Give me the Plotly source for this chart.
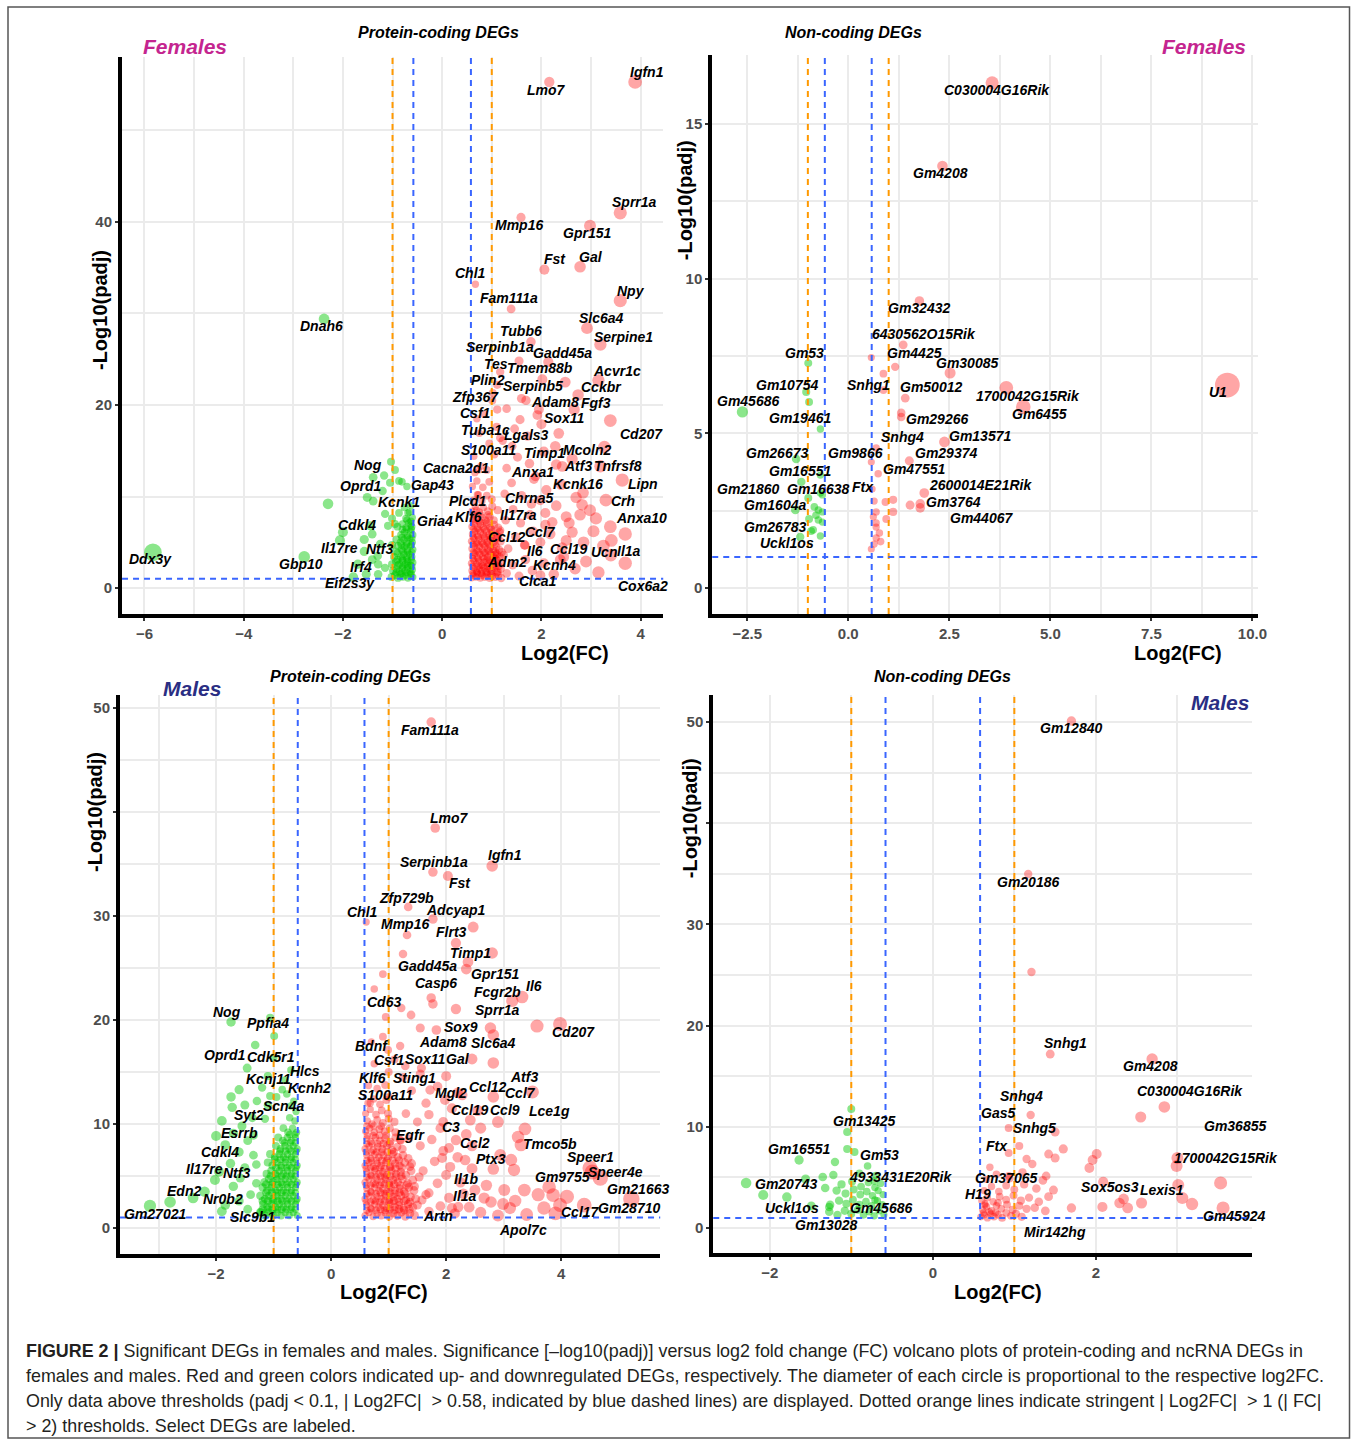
import plotly.graph_objects as go

W, H = 1360, 1444
KX = 1.007  # horizontal calibration of pixel positions (screenshot compresses x by ~0.7%)
FONT = "Liberation Sans, Arial, sans-serif"
RED = "rgba(255,0,0,0.5)"
GREEN = "rgba(0,200,0,0.65)"
BLUE = "#3a66ff"
ORANGE = "#ff9900"

# ======================= DATA =======================
# ---- Females, protein-coding DEGs: labelled genes (gene, log2FC, -log10 padj)
f_pc_labelled = [
    ("Igfn1", 3.89, 55.3), ("Lmo7", 2.16, 55.3), ("Sprr1a", 3.59, 41.0), ("Mmp16", 1.59, 40.5),
    ("Gpr151", 2.98, 39.6), ("Fst", 2.06, 34.8), ("Gal", 2.78, 35.1), ("Chl1", 0.67, 33.2),
    ("Fam111a", 1.39, 30.5), ("Npy", 3.59, 31.4), ("Dnah6", -2.38, 29.4), ("Slc6a4", 2.92, 28.4),
    ("Tubb6", 1.79, 26.9), ("Serpine1", 3.19, 26.6), ("Serpinb1a", 1.55, 24.8), ("Gadd45a", 2.14, 24.7),
    ("Tes", 1.17, 23.6), ("Tmem88b", 2.02, 22.8), ("Acvr1c", 3.15, 22.7), ("Plin2", 1.11, 22.2),
    ("Serpinb5", 2.48, 22.5), ("Cckbr", 2.74, 21.1), ("Zfp367", 1.01, 20.5), ("Adam8", 1.69, 20.5),
    ("Fgf3", 2.66, 19.5), ("Csf1", 1.11, 19.5), ("Sox11", 1.92, 18.9), ("Cd207", 3.39, 18.3),
    ("Tuba1c", 1.17, 16.4), ("Lgals3", 1.57, 18.4), ("S100a11", 1.41, 15.5), ("Timp1", 2.28, 15.5),
    ("Mcoln2", 3.27, 15.4), ("Nog", -1.03, 13.8), ("Cacna2d1", 0.73, 12.9), ("Atf3", 2.42, 13.3),
    ("Tnfrsf8", 3.19, 13.3), ("Anxa1", 1.88, 12.2), ("Oprd1", -1.17, 12.3), ("Gap43", -0.71, 11.1),
    ("Kcnk16", 2.84, 10.4), ("Lipn", 3.63, 11.8), ("Kcnk1", -0.87, 8.2), ("Plcd1", 0.73, 10.2),
    ("Chrna5", 1.98, 9.6), ("Crh", 2.82, 9.1), ("Gria4", -0.63, 6.9), ("Klf6", 0.69, 8.5),
    ("Il17ra", 1.77, 8.0), ("Anxa10", 3.39, 6.7), ("Cdkl4", -2.0, 6.1), ("Ccl12", 1.17, 6.3),
    ("Ccl7", 2.08, 6.9), ("Il17re", -2.06, 5.2), ("Ntf3", -1.01, 4.7), ("Il6", 1.67, 4.7),
    ("Ccl19", 2.50, 5.2), ("Ucn", 3.41, 5.2), ("Il1a", 3.69, 5.9), ("Ddx3y", -5.83, 3.9),
    ("Gbp10", -2.78, 3.4), ("Irf4", -1.41, 3.1), ("Adm2", 1.07, 3.6), ("Kcnh4", 2.38, 3.1),
    ("Eif2s3y", -1.79, 1.2), ("Clca1", 1.98, 1.4), ("Cox6a2", 3.69, 2.7),
]
# unlabelled up-regulated (log2FC, -log10 padj)
f_pc_up = [
    (0.59, 1.1), (0.63, 1.4), (0.68, 1.2), (0.72, 1.5), (0.77, 1.1), (0.81, 1.4), (0.86, 1.2), (0.91, 1.5),
    (0.96, 1.1), (1.01, 1.3), (1.07, 1.2), (1.13, 1.4), (1.19, 1.1),
    (0.60, 1.9), (0.65, 2.2), (0.70, 1.8), (0.75, 2.1), (0.80, 1.9), (0.85, 2.2), (0.90, 1.8), (0.95, 2.1),
    (1.00, 1.9), (1.06, 2.2), (1.12, 1.8), (1.18, 2.1),
    (0.59, 2.7), (0.64, 3.0), (0.69, 2.6), (0.74, 2.9), (0.79, 2.5), (0.84, 2.8), (0.89, 3.0), (0.94, 2.6),
    (0.99, 2.9), (1.05, 2.6), (1.11, 3.0), (1.17, 2.7),
    (0.61, 3.5), (0.66, 3.8), (0.71, 3.3), (0.76, 3.7), (0.82, 3.4), (0.87, 3.8), (0.92, 3.4), (0.98, 3.7),
    (1.04, 3.3), (1.10, 3.7), (1.16, 3.4), (1.24, 3.6),
    (0.60, 4.3), (0.65, 4.6), (0.70, 4.1), (0.75, 4.5), (0.81, 4.2), (0.86, 4.6), (0.92, 4.2), (0.97, 4.5),
    (1.03, 4.1), (1.09, 4.5), (1.15, 4.2),
    (0.59, 5.1), (0.64, 5.4), (0.69, 4.9), (0.74, 5.3), (0.80, 5.0), (0.85, 5.4), (0.91, 5.0), (0.97, 5.3),
    (1.03, 5.0), (1.10, 5.4), (1.18, 5.1),
    (0.61, 5.9), (0.66, 6.2), (0.71, 5.7), (0.77, 6.1), (0.83, 5.8), (0.89, 6.2), (0.95, 5.8), (1.01, 6.1),
    (1.08, 5.8), (1.16, 6.1),
    (0.60, 6.7), (0.65, 7.0), (0.71, 6.5), (0.77, 6.9), (0.83, 6.6), (0.90, 7.0), (0.97, 6.6), (1.05, 6.9),
    (1.13, 6.6),
    (0.62, 7.5), (0.68, 7.8), (0.74, 7.3), (0.81, 7.7), (0.88, 7.4), (0.96, 7.8), (1.04, 7.4),
    (0.60, 8.4), (0.67, 8.9), (0.75, 8.3), (0.83, 8.8), (0.92, 8.4), (1.01, 8.9), (1.12, 8.5),
    (0.63, 9.6), (0.71, 10.2), (0.80, 9.5), (0.90, 10.1), (1.00, 9.7),
    (0.61, 11.1), (0.70, 11.7), (0.82, 11.0), (0.95, 11.6),
    (0.66, 12.6), (0.78, 13.3), (0.64, 14.4), (0.90, 12.9),
    # dense core
    (0.62, 1.6), (0.70, 1.7), (0.78, 1.6), (0.88, 1.7), (0.98, 1.6), (1.10, 1.7),
    (0.61, 2.4), (0.72, 2.4), (0.82, 2.4), (0.92, 2.4), (1.02, 2.4), (1.14, 2.4),
    (0.62, 3.2), (0.73, 3.2), (0.85, 3.2), (0.96, 3.1), (1.08, 3.2),
    (0.63, 3.9), (0.73, 4.0), (0.84, 3.9), (0.95, 4.0), (1.07, 3.9), (1.20, 3.9),
    (0.62, 4.8), (0.72, 4.8), (0.83, 4.8), (0.94, 4.8), (1.06, 4.8),
    (0.62, 5.6), (0.73, 5.6), (0.86, 5.6), (0.99, 5.6), (1.13, 5.6),
    (0.63, 6.4), (0.74, 6.4), (0.86, 6.4), (0.99, 6.4),
    (0.63, 7.2), (0.76, 7.2), (0.90, 7.2),
    (0.64, 8.0), (0.78, 8.0), (0.93, 8.0),
    # scattered
    (2.98, 8.5), (2.50, 7.8), (2.78, 8.0), (2.08, 8.2), (2.56, 7.1), (2.22, 7.2),
    (1.30, 1.6), (1.42, 2.5), (1.55, 1.3), (1.68, 3.1), (1.82, 1.9), (2.05, 2.7), (2.25, 1.5), (2.45, 3.4),
    (2.68, 2.1), (2.90, 2.9), (3.15, 1.7), (3.40, 3.6),
    (1.33, 4.3), (1.48, 5.6), (1.66, 4.7), (1.83, 6.2), (1.98, 5.0), (2.18, 5.9), (2.42, 4.4), (2.62, 6.1),
    (2.85, 5.0), (3.05, 6.2), (3.25, 4.6),
    (1.28, 7.4), (1.43, 8.6), (1.58, 7.1), (1.80, 9.2), (2.30, 9.0), (2.70, 9.9), (3.10, 7.6), (3.30, 9.6),
    (1.26, 10.3), (1.40, 11.5), (1.60, 10.1), (1.85, 11.9), (2.10, 10.7), (2.40, 11.3),
    (1.30, 13.1), (1.52, 14.3), (1.76, 13.6), (2.05, 14.9), (2.30, 13.5), (2.62, 14.1), (1.22, 16.1),
    (1.46, 17.4), (1.72, 16.6), (2.00, 17.9), (2.35, 16.9), (1.30, 19.6), (1.60, 20.7), (1.95, 19.5),
    (1.05, 14.6), (1.10, 17.6), (0.95, 15.8), (0.75, 16.9), (0.85, 19.0), (1.02, 21.3), (0.70, 18.5),
]
# unlabelled down-regulated
f_pc_down = [
    (-0.59, 1.2), (-0.64, 1.5), (-0.69, 1.1), (-0.74, 1.4), (-0.79, 1.2), (-0.84, 1.5), (-0.89, 1.1),
    (-0.95, 1.4), (-1.02, 1.2),
    (-0.60, 2.0), (-0.65, 1.8), (-0.70, 2.2), (-0.75, 1.9), (-0.80, 2.2), (-0.86, 1.8), (-0.92, 2.1), (-0.99, 1.9),
    (-0.59, 2.8), (-0.64, 2.5), (-0.69, 2.9), (-0.74, 2.6), (-0.80, 3.0), (-0.86, 2.6), (-0.93, 2.9), (-1.01, 2.6),
    (-0.61, 3.4), (-0.66, 3.7), (-0.71, 3.3), (-0.77, 3.7), (-0.83, 3.4), (-0.90, 3.8), (-0.97, 3.4),
    (-0.59, 4.2), (-0.64, 4.6), (-0.70, 4.1), (-0.76, 4.5), (-0.82, 4.2), (-0.89, 4.6),
    (-0.60, 5.0), (-0.65, 5.4), (-0.71, 4.9), (-0.77, 5.3), (-0.84, 5.0), (-0.92, 5.3),
    (-0.59, 5.8), (-0.64, 6.2), (-0.70, 5.7), (-0.76, 6.1), (-0.83, 5.8),
    (-0.61, 6.7), (-0.67, 7.1), (-0.73, 6.6), (-0.80, 7.0), (-0.90, 6.7),
    (-0.60, 7.7), (-0.66, 8.3), (-0.73, 7.6), (-0.63, 9.0), (-0.76, 8.8),
    # dense core
    (-0.62, 1.6), (-0.71, 1.7), (-0.81, 1.6), (-0.92, 1.7),
    (-0.61, 2.4), (-0.70, 2.5), (-0.79, 2.4), (-0.89, 2.5),
    (-0.62, 3.1), (-0.71, 3.1), (-0.80, 3.2), (-0.90, 3.1),
    (-0.61, 3.9), (-0.70, 3.9), (-0.79, 4.0), (-0.93, 4.0),
    (-0.62, 4.7), (-0.72, 4.7), (-0.82, 4.7),
    (-0.61, 5.4), (-0.70, 5.5), (-0.81, 5.5),
    (-0.62, 6.4), (-0.72, 6.4), (-0.80, 6.4),
    (-0.63, 7.3), (-0.71, 7.4),
    # scattered
    (-1.39, 12.1), (-0.87, 11.7), (-0.81, 11.6), (-1.51, 9.9), (-1.39, 9.5), (-1.15, 8.1), (-1.01, 7.6),
    (-0.69, 8.2), (-1.09, 6.8), (-0.95, 7.0), (-1.57, 5.3), (-1.41, 5.9), (-1.25, 4.8), (-1.57, 4.0),
    (-1.29, 2.6), (-1.53, 1.5), (-1.29, 1.5), (-2.30, 9.2), (-1.20, 10.6), (-1.05, 11.5), (-0.95, 12.9),
    (-1.30, 3.5), (-1.15, 2.2), (-1.45, 6.8), (-1.70, 2.6),
]

# ---- Females, non-coding DEGs
f_nc_labelled = [
    ("C030004G16Rik", 3.56, 16.33), ("Gm4208", 2.33, 13.64), ("Gm32432", 1.76, 9.28),
    ("6430562O15Rik", 1.36, 7.86), ("Gm53", -0.99, 7.27), ("Gm4425", 1.16, 7.15), ("Gm30085", 2.52, 6.95),
    ("Gm10754", -1.04, 6.34), ("Snhg1", 0.87, 6.40), ("Gm50012", 1.41, 6.14), ("1700042G15Rik", 3.91, 6.47),
    ("U1", 9.38, 6.56), ("Gm45686", -2.62, 5.69), ("Gm6455", 4.33, 5.85), ("Gm19461", -0.69, 5.14),
    ("Gm29266", 1.31, 5.66), ("Snhg4", 0.69, 4.53), ("Gm9866", 0.57, 4.07), ("Gm13571", 2.38, 4.72),
    ("Gm26673", -1.29, 4.17), ("Gm29374", 1.51, 4.11), ("Gm16551", -0.69, 3.65), ("Gm47551", 0.74, 3.69),
    ("Gm21860", -1.16, 3.43), ("Gm16638", -0.69, 3.07), ("Ftx", 0.59, 3.20), ("2600014E21Rik", 1.88, 3.07),
    ("Gm3764", 1.78, 2.72), ("Gm1604a", -1.31, 2.52), ("Gm44067", 1.53, 2.68), ("Gm26783", -0.92, 1.84),
    ("Uckl1os", -1.19, 1.65),
]
f_nc_up = [
    (0.57, 7.45), (0.87, 6.93), (0.64, 2.81), (0.92, 2.78), (1.11, 2.85), (0.69, 2.46), (1.11, 2.46),
    (0.94, 2.23), (0.69, 1.97), (0.77, 1.78), (0.69, 1.62), (0.64, 1.42), (0.57, 1.26), (1.78, 2.59),
    (0.69, 2.10), (1.31, 5.53), (0.62, 2.30), (0.80, 1.50),
]
f_nc_down = [
    (-0.84, 2.62), (-0.74, 2.52), (-0.64, 2.46), (-0.74, 2.20), (-0.97, 2.23), (-0.64, 2.13), (-0.87, 1.88),
    (-0.69, 1.68), (-0.99, 2.91), (-0.97, 6.01), (-0.64, 3.01), (-0.80, 2.35),
]

# ---- Males, protein-coding DEGs
m_pc_labelled = [
    ("Fam111a", 1.74, 48.65), ("Lmo7", 1.81, 38.46), ("Igfn1", 2.80, 34.81), ("Serpinb1a", 1.77, 34.23),
    ("Fst", 2.03, 33.85), ("Zfp729b", 1.34, 30.87), ("Chl1", 0.61, 29.42), ("Adcyap1", 1.77, 29.71),
    ("Mmp16", 1.32, 28.17), ("Flrt3", 2.17, 27.40), ("Timp1", 2.80, 26.44), ("Gpr151", 2.38, 25.58),
    ("Gadd45a", 2.35, 24.90), ("Casp6", 1.74, 22.12), ("Fcgr2b", 3.15, 21.83), ("Il6", 3.32, 22.21),
    ("Cd63", 1.22, 21.15), ("Sprr1a", 2.17, 21.06), ("Nog", -1.74, 19.81), ("Ppfia4", -0.99, 18.46),
    ("Sox9", 2.77, 19.23), ("Cd207", 3.98, 19.62), ("Adam8", 1.83, 19.04), ("Slc6a4", 2.82, 18.56),
    ("Oprd1", -1.32, 17.60), ("Cdk5r1", -1.46, 15.38), ("Bdnf", 0.99, 17.12), ("Csf1", 1.29, 15.58),
    ("Sox11", 1.57, 15.38), ("Gal", 2.45, 16.25), ("Hlcs", -0.80, 14.23), ("Kcnj11", -1.29, 12.21),
    ("Kcnh2", -0.70, 11.73), ("Klf6", 0.94, 13.75), ("Sting1", 1.72, 13.27), ("Atf3", 3.50, 13.08),
    ("Ccl12", 2.28, 12.79), ("Ccl7", 2.82, 12.60), ("Mgl2", 1.98, 12.31), ("S100a11", 0.68, 12.02),
    ("Scn4a", -0.77, 12.88), ("Syt2", -1.50, 11.83), ("Ccl19", 2.42, 10.38), ("Ccl9", 2.90, 10.19),
    ("Lce1g", 3.37, 9.52), ("C3", 1.95, 10.19), ("Esrrb", -2.00, 8.85), ("Egfr", 1.20, 8.46),
    ("Tmco5b", 3.25, 8.75), ("Ccl2", 2.17, 8.46), ("Cdkl4", -1.84, 7.98), ("Speer1", 4.50, 5.77),
    ("Speer4e", 4.68, 4.81), ("Gm9755", 3.79, 3.94), ("Ptx3", 3.13, 6.54), ("Il17re", -2.02, 4.62),
    ("Ntf3", -1.58, 4.81), ("Il1b", 2.07, 5.87), ("Il1a", 2.66, 2.88), ("Gm21663", 5.22, 2.79),
    ("Edn2", -2.80, 2.50), ("Nr0b2", -1.84, 2.21), ("Gm27021", -3.15, 2.12), ("Slc9b1", -1.23, 1.54),
    ("Artn", 2.21, 2.02), ("Ccl17", 3.70, 1.92), ("Gm28710", 3.98, 2.21), ("Apol7c", 3.11, 1.92),
]
m_pc_up = [
    (0.59, 1.2), (0.66, 1.5), (0.73, 1.1), (0.80, 1.4), (0.87, 1.2), (0.94, 1.5), (1.01, 1.1), (1.08, 1.4),
    (1.15, 1.2), (1.22, 1.5), (1.29, 1.1), (1.37, 1.4), (1.45, 1.2),
    (0.62, 2.2), (0.69, 1.9), (0.76, 2.3), (0.83, 2.0), (0.90, 2.2), (0.97, 1.9), (1.04, 2.3), (1.11, 2.0),
    (1.18, 2.2), (1.26, 1.9), (1.34, 2.3), (1.42, 2.0),
    (0.59, 2.8), (0.66, 3.1), (0.73, 2.7), (0.80, 3.0), (0.87, 2.8), (0.94, 3.1), (1.01, 2.7), (1.08, 3.0),
    (1.15, 2.8), (1.22, 3.1), (1.30, 2.7), (1.38, 3.0), (1.47, 2.8),
    (0.62, 3.8), (0.69, 3.5), (0.76, 3.9), (0.83, 3.6), (0.90, 3.8), (0.97, 3.5), (1.04, 3.9), (1.11, 3.6),
    (1.19, 3.8), (1.27, 3.5), (1.35, 3.9), (1.44, 3.6),
    (0.59, 4.4), (0.66, 4.7), (0.73, 4.3), (0.80, 4.6), (0.87, 4.4), (0.94, 4.7), (1.01, 4.3), (1.08, 4.6),
    (1.16, 4.4), (1.24, 4.7), (1.33, 4.3), (1.42, 4.6),
    (0.62, 5.4), (0.69, 5.1), (0.76, 5.5), (0.83, 5.2), (0.90, 5.4), (0.97, 5.1), (1.05, 5.5), (1.13, 5.2),
    (1.21, 5.4), (1.30, 5.1), (1.39, 5.5),
    (0.59, 6.0), (0.66, 6.3), (0.73, 5.9), (0.80, 6.2), (0.87, 6.0), (0.95, 6.3), (1.03, 5.9), (1.11, 6.2),
    (1.19, 6.0), (1.28, 6.3), (1.37, 5.9),
    (0.62, 7.0), (0.69, 6.7), (0.76, 7.1), (0.83, 6.8), (0.91, 7.0), (0.99, 6.7), (1.07, 7.1), (1.16, 6.8),
    (1.25, 7.0), (1.34, 6.7),
    (0.59, 7.6), (0.66, 7.9), (0.73, 7.5), (0.81, 7.8), (0.89, 7.6), (0.97, 7.9), (1.06, 7.5), (1.15, 7.8),
    (1.24, 7.6),
    (0.62, 8.6), (0.69, 8.3), (0.77, 8.7), (0.85, 8.4), (0.94, 8.6), (1.03, 8.3), (1.12, 8.7), (1.21, 8.4),
    (0.60, 9.3), (0.67, 9.6), (0.75, 9.2), (0.84, 9.5), (0.93, 9.3), (1.02, 9.6), (1.12, 9.2),
    (0.63, 10.3), (0.71, 10.0), (0.80, 10.4), (0.90, 10.1), (1.00, 10.5), (1.10, 10.2),
    (0.60, 11.0), (0.68, 11.4), (0.78, 10.9), (0.88, 11.3), (0.99, 11.0),
    (0.64, 12.0), (0.74, 12.4), (0.85, 11.9), (0.96, 12.3),
    # dense core
    (0.62, 1.7), (0.70, 1.8), (0.78, 1.7), (0.86, 1.8), (0.94, 1.7), (1.02, 1.8), (1.10, 1.7), (1.18, 1.8),
    (1.27, 1.7), (1.36, 1.8),
    (0.61, 2.5), (0.69, 2.5), (0.77, 2.6), (0.85, 2.5), (0.93, 2.6), (1.01, 2.5), (1.09, 2.6), (1.18, 2.5),
    (1.27, 2.6), (1.37, 2.5),
    (0.62, 3.3), (0.70, 3.4), (0.78, 3.3), (0.86, 3.4), (0.94, 3.3), (1.02, 3.4), (1.10, 3.3), (1.19, 3.4),
    (1.29, 3.3),
    (0.61, 4.1), (0.69, 4.1), (0.77, 4.2), (0.85, 4.1), (0.93, 4.2), (1.01, 4.1), (1.10, 4.2), (1.20, 4.1),
    (1.31, 4.1),
    (0.62, 4.9), (0.70, 5.0), (0.78, 4.9), (0.86, 5.0), (0.94, 4.9), (1.03, 5.0), (1.12, 4.9), (1.22, 5.0),
    (0.61, 5.7), (0.69, 5.8), (0.77, 5.7), (0.85, 5.8), (0.93, 5.7), (1.02, 5.8), (1.12, 5.7), (1.23, 5.8),
    (0.62, 6.5), (0.70, 6.5), (0.79, 6.5), (0.88, 6.5), (0.97, 6.5), (1.07, 6.5), (1.18, 6.5),
    (0.61, 7.3), (0.70, 7.3), (0.79, 7.3), (0.88, 7.3), (0.98, 7.3), (1.09, 7.3),
    (0.62, 8.1), (0.71, 8.1), (0.81, 8.1), (0.91, 8.1), (1.02, 8.1),
    (0.63, 8.9), (0.73, 8.9), (0.84, 8.9), (0.96, 8.9),
    (0.62, 9.8), (0.74, 9.8), (0.87, 9.8),
    # scattered
    (0.90, 24.42), (0.75, 22.98), (1.39, 20.48), (1.55, 19.23), (3.58, 19.42), (1.77, 21.54), (2.47, 28.94),
    (1.25, 26.35), (2.82, 15.87), (3.30, 7.98), (2.82, 5.67), (3.36, 3.65), (3.01, 3.65), (2.78, 2.50),
    (2.50, 3.65), (3.18, 5.58), (2.94, 7.02), (2.33, 6.54), (2.05, 7.69), (1.93, 6.73), (2.10, 1.92),
    (1.70, 3.37), (1.53, 4.90), (1.58, 2.69), (3.86, 3.17), (2.99, 2.31), (4.54, 5.38),
    (1.25, 14.5), (1.40, 13.2), (1.55, 14.8), (1.65, 12.0), (1.85, 13.6), (2.00, 14.6), (2.20, 13.0),
    (1.30, 11.0), (1.50, 10.2), (1.70, 10.9), (1.90, 9.6), (2.10, 11.5), (2.35, 9.0), (2.55, 11.3),
    (1.35, 8.6), (1.55, 7.9), (1.75, 8.5), (1.95, 7.4), (2.20, 6.8), (2.45, 7.9), (2.60, 9.6),
    (1.40, 6.2), (1.60, 5.5), (1.80, 6.4), (2.00, 5.1), (2.25, 4.4), (2.45, 5.7), (2.70, 4.1),
    (1.45, 4.0), (1.65, 3.2), (1.85, 4.3), (2.05, 2.9), (2.30, 3.3), (1.50, 2.2), (1.70, 1.6),
    (1.90, 2.1), (2.15, 1.4), (2.40, 2.0), (2.60, 1.5), (2.90, 1.2), (3.20, 2.6), (3.40, 1.3),
    (3.60, 3.2), (3.90, 1.4), (4.10, 3.0), (4.40, 2.2), (1.20, 17.5), (1.10, 16.2), (0.90, 18.4),
    (0.75, 15.8), (0.65, 13.7), (1.00, 12.6), (0.80, 13.4), (0.70, 17.9), (0.95, 20.3), (1.00, 15.0),
]
m_pc_down = [
    (-0.59, 1.2), (-0.66, 1.5), (-0.73, 1.2), (-0.80, 1.5), (-0.87, 1.2), (-0.94, 1.5), (-1.01, 1.2),
    (-1.08, 1.5), (-1.15, 1.2), (-1.22, 1.5),
    (-0.62, 2.3), (-0.69, 2.0), (-0.76, 2.3), (-0.83, 2.0), (-0.90, 2.3), (-0.97, 2.0), (-1.04, 2.3),
    (-1.11, 2.0), (-1.18, 2.3),
    (-0.59, 2.8), (-0.66, 3.1), (-0.73, 2.8), (-0.80, 3.1), (-0.87, 2.8), (-0.94, 3.1), (-1.01, 2.8),
    (-1.08, 3.1), (-1.15, 2.8), (-1.23, 3.1),
    (-0.62, 3.9), (-0.69, 3.6), (-0.76, 3.9), (-0.83, 3.6), (-0.90, 3.9), (-0.97, 3.6), (-1.04, 3.9),
    (-1.11, 3.6), (-1.19, 3.9),
    (-0.59, 4.4), (-0.66, 4.7), (-0.73, 4.4), (-0.80, 4.7), (-0.87, 4.4), (-0.94, 4.7), (-1.01, 4.4),
    (-1.08, 4.7), (-1.16, 4.4),
    (-0.62, 5.5), (-0.69, 5.2), (-0.76, 5.5), (-0.83, 5.2), (-0.90, 5.5), (-0.97, 5.2), (-1.04, 5.5), (-1.12, 5.2),
    (-0.59, 6.0), (-0.66, 6.3), (-0.73, 6.0), (-0.80, 6.3), (-0.87, 6.0), (-0.94, 6.3), (-1.02, 6.0), (-1.10, 6.3),
    (-0.62, 7.1), (-0.69, 6.8), (-0.76, 7.1), (-0.83, 6.8), (-0.90, 7.1), (-0.98, 6.8), (-1.06, 7.1),
    (-0.59, 7.6), (-0.66, 7.9), (-0.73, 7.6), (-0.80, 7.9), (-0.88, 7.6), (-0.96, 7.9),
    (-0.62, 8.7), (-0.69, 8.4), (-0.76, 8.7), (-0.84, 8.4), (-0.92, 8.7),
    (-0.60, 9.2), (-0.67, 9.6), (-0.75, 9.2), (-0.83, 9.6),
    (-0.63, 10.3), (-0.72, 10.6), (-0.61, 11.2),
    # dense core
    (-0.62, 1.8), (-0.70, 1.8), (-0.78, 1.8), (-0.86, 1.8), (-0.94, 1.8), (-1.02, 1.8), (-1.10, 1.8), (-1.19, 1.8),
    (-0.61, 2.6), (-0.69, 2.6), (-0.77, 2.6), (-0.85, 2.6), (-0.93, 2.6), (-1.01, 2.6), (-1.10, 2.6), (-1.19, 2.6),
    (-0.62, 3.4), (-0.70, 3.4), (-0.78, 3.4), (-0.86, 3.4), (-0.94, 3.4), (-1.03, 3.4), (-1.13, 3.4),
    (-0.61, 4.2), (-0.69, 4.2), (-0.77, 4.2), (-0.85, 4.2), (-0.93, 4.2), (-1.03, 4.2), (-1.13, 4.2),
    (-0.62, 5.0), (-0.70, 5.0), (-0.78, 5.0), (-0.86, 5.0), (-0.95, 5.0), (-1.05, 5.0),
    (-0.61, 5.8), (-0.69, 5.8), (-0.77, 5.8), (-0.86, 5.8), (-0.96, 5.8),
    (-0.62, 6.6), (-0.70, 6.6), (-0.79, 6.6), (-0.88, 6.6), (-0.98, 6.6),
    (-0.61, 7.4), (-0.70, 7.4), (-0.79, 7.4), (-0.89, 7.4),
    (-0.62, 8.2), (-0.71, 8.2), (-0.81, 8.2),
    (-0.63, 9.0), (-0.72, 9.0),
    # scattered
    (-1.74, 12.6), (-1.72, 11.6), (-1.06, 12.69), (-1.37, 10.6), (-1.55, 9.8), (-1.70, 9.1), (-1.45, 8.4),
    (-1.60, 7.3), (-1.35, 7.0), (-1.75, 6.2), (-1.50, 5.8), (-1.30, 6.1), (-1.95, 5.4), (-1.70, 4.0),
    (-1.40, 3.2), (-1.60, 2.6), (-2.20, 3.5), (-1.90, 1.6), (-1.45, 1.8), (-2.40, 2.9), (-1.30, 4.3),
    (-1.35, 8.9), (-1.15, 10.5), (-1.10, 11.8), (-0.95, 12.6), (-0.85, 13.3), (-0.65, 12.2), (-1.00, 16.4),
    (-1.10, 14.6), (-0.70, 15.2), (-1.20, 13.5), (-1.60, 13.3), (-1.90, 10.3), (-1.06, 20.2),
]

# ---- Males, non-coding DEGs
m_nc_labelled = [
    ("Gm12840", 1.70, 50.1), ("Gm20186", 1.17, 34.98), ("Snhg1", 1.44, 17.19), ("Gm4208", 2.69, 16.70),
    ("C030004G16Rik", 2.84, 11.96), ("Snhg4", 1.20, 11.17), ("Gas5", 0.93, 9.88), ("Gm13425", -1.00, 11.76),
    ("Snhg5", 1.50, 9.49), ("Gm36855", 3.00, 6.92), ("1700042G15Rik", 2.99, 6.13), ("Gm16551", -1.64, 6.72),
    ("Gm53", -0.80, 6.13), ("Ftx", 1.06, 8.10), ("4933431E20Rik", -0.72, 4.64), ("Gm37065", 0.93, 5.14),
    ("Gm20743", -2.29, 4.45), ("Sox5os3", 2.09, 4.55), ("Lexis1", 3.01, 4.25), ("H19", 0.64, 2.27),
    ("Uckl1os", -1.79, 3.06), ("Gm45686", -0.71, 2.77), ("Gm45924", 3.56, 1.98), ("Gm13028", -1.27, 2.08),
    ("Mir142hg", 1.70, 1.98),
]
m_nc_up = [
    (1.21, 25.30), (2.55, 10.97), (2.01, 7.31), (1.96, 6.72), (1.92, 5.93), (1.60, 7.81), (1.42, 7.31),
    (1.50, 6.92), (1.15, 6.82), (1.22, 6.32), (1.39, 5.14), (1.48, 3.75), (2.08, 2.08), (2.29, 2.47),
    (2.39, 1.98), (2.56, 2.47), (2.34, 2.87), (3.06, 2.96), (3.18, 2.37), (3.53, 4.45), (0.93, 7.41),
    (0.59, 1.1), (0.63, 1.3), (0.67, 1.0), (0.71, 1.4), (0.75, 1.1), (0.80, 1.3), (0.85, 1.0), (0.90, 1.5),
    (0.96, 1.2), (1.02, 1.4), (1.09, 1.1),
    (0.61, 1.8), (0.66, 2.1), (0.72, 1.7), (0.78, 2.2), (0.84, 1.9), (0.91, 2.3), (0.98, 1.8), (1.06, 2.2),
    (1.15, 1.9), (1.25, 2.0), (1.38, 1.7),
    (0.60, 2.7), (0.67, 3.0), (0.74, 2.6), (0.82, 3.1), (0.90, 2.8), (0.99, 3.2), (1.08, 2.7), (1.18, 3.0),
    (1.30, 2.6), (1.42, 3.1),
    (0.63, 3.7), (0.72, 4.1), (0.81, 3.6), (0.90, 4.2), (1.00, 3.8), (1.12, 4.3), (1.27, 3.9),
    (0.66, 4.8), (0.78, 5.3), (0.94, 4.9), (1.10, 5.5), (1.35, 4.7), (0.70, 6.0),
    (0.62, 1.5), (0.69, 1.6), (0.77, 1.5), (0.64, 2.4), (0.80, 2.5),
]
m_nc_down = [
    (-2.08, 3.26), (-1.56, 4.84), (-1.35, 5.04), (-1.22, 5.24), (-1.32, 3.95), (-1.20, 6.52), (-1.05, 7.81),
    (-0.96, 7.51), (-1.05, 9.49), (-1.49, 2.17),
    (-0.60, 1.3), (-0.66, 1.7), (-0.72, 1.2), (-0.78, 1.6), (-0.85, 1.3), (-0.92, 1.8), (-1.00, 1.4),
    (-1.08, 1.7), (-1.17, 1.3), (-1.27, 1.6),
    (-0.62, 2.3), (-0.68, 2.7), (-0.75, 2.2), (-0.82, 2.6), (-0.90, 2.3), (-0.98, 2.8), (-1.06, 2.4),
    (-1.15, 2.7), (-1.26, 2.3),
    (-0.61, 3.3), (-0.67, 3.7), (-0.74, 3.2), (-0.81, 3.6), (-0.89, 3.3), (-0.97, 3.8), (-1.07, 3.4), (-1.18, 3.7),
    (-0.64, 4.4), (-0.71, 4.0), (-0.79, 4.5), (-0.88, 4.1), (-0.99, 4.6), (-1.12, 4.3), (-0.70, 5.2), (-0.90, 5.4),
]

# thresholds
LFC_T, LFC_STRICT, SIG_T = 0.58, 1.0, 1.0

# ======================= LABEL OFFSETS (px; layout only) =======================
f_pc_off = {
    "Igfn1": (12, -10), "Lmo7": (-3, 8), "Sprr1a": (14, -11), "Mmp16": (-2, 8), "Gpr151": (-3, 7),
    "Fst": (11, -11), "Gal": (11, -10), "Chl1": (-5, -11), "Fam111a": (-2, -11), "Npy": (11, -10),
    "Dnah6": (-3, 7), "Slc6a4": (14, -10), "Tubb6": (-10, -11), "Serpine1": (23, -8), "Serpinb1a": (-19, -14),
    "Gadd45a": (14, -9), "Tes": (-4, -8), "Tmem88b": (-2, -11), "Acvr1c": (18, -9), "Plin2": (-9, -5),
    "Serpinb5": (-32, 4), "Cckbr": (23, -8), "Zfp367": (-17, -3), "Adam8": (29, 2), "Fgf3": (22, -7),
    "Csf1": (-22, 3), "Sox11": (26, 3), "Cd207": (31, 13), "Tuba1c": (-15, -8), "Lgals3": (6, 15),
    "S100a11": (-23, 4), "Timp1": (-11, 7), "Mcoln2": (-17, 3), "Nog": (-23, 3), "Cacna2d1": (-22, -2),
    "Atf3": (16, 0), "Tnfrsf8": (17, 0), "Anxa1": (-3, -4), "Oprd1": (-23, 11), "Gap43": (25, -1),
    "Kcnk16": (-5, -9), "Lipn": (21, 4), "Kcnk1": (0, -11), "Plcd1": (-10, 6), "Chrna5": (-11, -2),
    "Crh": (41, -4), "Gria4": (24, -4), "Klf6": (-8, 7), "Il17ra": (-11, 0), "Anxa10": (31, -9),
    "Cdkl4": (14, -7), "Ccl12": (7, 7), "Ccl7": (-5, 7), "Il17re": (0, 8), "Ntf3": (-12, 4),
    "Il6": (10, 6), "Ccl19": (3, 9), "Ucn": (-7, 12), "Il1a": (4, 17), "Ddx3y": (-2, 7),
    "Gbp10": (-3, 7), "Irf4": (-11, 7), "Adm2": (12, 7), "Kcnh4": (-6, 5), "Eif2s3y": (-3, 6),
    "Clca1": (-2, 6), "Cox6a2": (18, 23),
}
f_nc_off = {
    "C030004G16Rik": (5, 7), "Gm4208": (-2, 7), "Gm32432": (0, 7), "6430562O15Rik": (21, -11),
    "Gm53": (-4, -10), "Gm4425": (19, -14), "Gm30085": (17, -10), "Gm10754": (-19, -7), "Snhg1": (-15, -5),
    "Gm50012": (26, -11), "1700042G15Rik": (22, 8), "U1": (-9, 7), "Gm45686": (6, -11), "Gm6455": (16, 7),
    "Gm19461": (-20, -11), "Gm29266": (36, 6), "Snhg4": (26, -11), "Gm9866": (-16, -9), "Gm13571": (35, -6),
    "Gm26673": (-19, -6), "Gm29374": (36, -8), "Gm16551": (-20, -4), "Gm47551": (36, -5), "Gm21860": (-53, 7),
    "Gm16638": (-2, -4), "Ftx": (-9, -2), "2600014E21Rik": (56, -8), "Gm3764": (33, -2), "Gm1604a": (-20, -5),
    "Gm44067": (71, 13), "Gm26783": (-36, -4), "Uckl1os": (-13, 6),
}
m_pc_off = {
    "Fam111a": (-1, 8), "Lmo7": (14, -10), "Igfn1": (13, -11), "Serpinb1a": (1, -10), "Fst": (12, 7),
    "Zfp729b": (-2, -9), "Chl1": (-4, -10), "Adcyap1": (23, -9), "Mmp16": (-2, -11), "Flrt3": (-4, -11),
    "Timp1": (-22, 0), "Gpr151": (27, 12), "Gadd45a": (-39, -3), "Casp6": (5, -15), "Fcgr2b": (-15, -9),
    "Il6": (12, -11), "Cd63": (-17, -6), "Sprr1a": (41, 1), "Nog": (-4, -10), "Ppfia4": (-6, -13),
    "Sox9": (-29, -1), "Cd207": (13, 8), "Adam8": (7, 12), "Slc6a4": (0, 8), "Oprd1": (-30, 10),
    "Cdk5r1": (24, -11), "Bdnf": (-16, -4), "Csf1": (-16, -6), "Sox11": (4, -9), "Gal": (-14, 0),
    "Hlcs": (20, -9), "Kcnj11": (11, -22), "Kcnh2": (19, -18), "Klf6": (-13, -7), "Sting1": (-15, -12),
    "Atf3": (-8, -15), "Ccl12": (26, -8), "Ccl7": (27, -4), "Mgl2": (6, -7), "S100a11": (15, -8),
    "Scn4a": (-3, 12), "Syt2": (4, 10), "Ccl19": (0, -10), "Ccl9": (7, -12), "Lce1g": (24, -18),
    "C3": (8, 5), "Esrrb": (23, -3), "Egfr": (11, -5), "Tmco5b": (32, 7), "Ccl2": (19, 3),
    "Cdkl4": (-5, 7), "Speer1": (1, -11), "Speer4e": (15, -6), "Gm9755": (13, -10), "Ptx3": (-20, -1),
    "Il17re": (-10, -11), "Ntf3": (-4, -5), "Il1b": (16, 12), "Il1a": (-19, -2), "Gm21663": (7, -10),
    "Edn2": (14, -11), "Nr0b2": (-2, -6), "Gm27021": (5, 8), "Slc9b1": (-8, 5), "Artn": (-20, 9),
    "Ccl17": (36, 4), "Gm28710": (68, 3), "Apol7c": (13, 22),
}
m_nc_off = {
    "Gm12840": (0, 7), "Gm20186": (0, 8), "Snhg1": (15, -11), "Gm4208": (-2, 7), "C030004G16Rik": (25, -16),
    "Snhg4": (-9, -19), "Gas5": (-11, -15), "Gm13425": (13, 12), "Snhg5": (-20, -4), "Gm36855": (57, -32),
    "1700042G15Rik": (49, -8), "Gm16551": (0, -11), "Gm53": (12, -11), "Ftx": (-22, 0),
    "4933431E20Rik": (26, -4), "Gm37065": (-3, 2), "Gm20743": (40, 1), "Sox5os3": (7, 5), "Lexis1": (-16, 5),
    "H19": (-7, -11), "Uckl1os": (5, 11), "Gm45686": (6, 8), "Gm45924": (11, 8), "Gm13028": (-3, 18),
    "Mir142hg": (-16, 24),
}

# ======================= LAYOUT =======================
panels = [
    dict(lab=f_pc_labelled, up=f_pc_up, dn=f_pc_down, off=f_pc_off,
         px=(122, 663), py=(57, 614), xr=(-6.452, 4.456), yr=(-2.84, 58.03),
         xdt=2, xmin=1, xfmt="", yvals=[0, 20, 40], ytext=["0", "20", "40"], ymin=10,
         title="Protein-coding DEGs", title_xy=(438, 33), sex="Females", sex_xy=(185, 47),
         xt_xy=(565, 653), yt_xy=(100, 310)),
    dict(lab=f_nc_labelled, up=f_nc_up, dn=f_nc_down, off=f_nc_off,
         px=(712, 1258), py=(55, 614), xr=(-3.366, 10.149), yr=(-0.84, 17.23),
         xdt=2.5, xmin=1.25, xfmt=".1f", yvals=[0, 5, 10, 15], ytext=["0", "5", "10", "15"], ymin=2.5,
         title="Non-coding DEGs", title_xy=(853, 33), sex="Females", sex_xy=(1204, 47),
         xt_xy=(1178, 653), yt_xy=(685, 200)),
    dict(lab=m_pc_labelled, up=m_pc_up, dn=m_pc_down, off=m_pc_off,
         px=(120, 660), py=(695, 1254), xr=(-3.670, 5.722), yr=(-2.5, 51.25),
         xdt=2, xmin=1, xfmt="", yvals=[0, 10, 20, 30, 40, 50], ytext=["0", "10", "20", "30", "", "50"], ymin=5,
         title="Protein-coding DEGs", title_xy=(350, 676), sex="Males", sex_xy=(192, 688),
         xt_xy=(384, 1292), yt_xy=(95, 812)),
    dict(lab=m_nc_labelled, up=m_nc_up, dn=m_nc_down, off=m_nc_off,
         px=(713, 1252), py=(695, 1253), xr=(-2.693, 3.920), yr=(-2.47, 52.67),
         xdt=2, xmin=1, xfmt="", yvals=[0, 10, 20, 30, 40, 50], ytext=["0", "10", "20", "30", "", "50"], ymin=5,
         title="Non-coding DEGs", title_xy=(942, 676), sex="Males", sex_xy=(1220, 702),
         xt_xy=(998, 1292), yt_xy=(690, 818)),
]

SEX_COL = {"Females": "#c4258f", "Males": "#2a2e83"}
GRID = "#ebebeb"


def px2paper(x, y):
    return x * KX / W, 1 - y / H


def centered(xy, text, size, color, angle=0):
    x, y = px2paper(*xy)
    return dict(x=x, y=y, xref="paper", yref="paper", xanchor="center", yanchor="middle",
                showarrow=False, text=text, textangle=angle,
                font=dict(family=FONT, size=size, color=color))


fig = go.Figure()
annotations = []
shapes = []
layout_axes = {}

for i, p in enumerate(panels):
    n = "" if i == 0 else str(i + 1)
    xa, ya = "x" + n, "y" + n
    pts = p["dn"] + p["up"] + [(fc, s) for _, fc, s in p["lab"]]
    xs = [a for a, _ in pts]
    ys = [b for _, b in pts]
    fig.add_trace(go.Scatter(
        x=xs, y=ys, mode="markers", xaxis=xa, yaxis=ya, hoverinfo="skip", showlegend=False,
        marker=dict(size=[6 + 2.0 * abs(v) for v in xs],
                    color=[RED if v > 0 else GREEN for v in xs], line=dict(width=0)),
    ))

    tickfont = dict(family=FONT, size=15, color="#4d4d4d", weight="bold")
    common = dict(showline=True, linewidth=4, linecolor="black", showgrid=True, gridcolor=GRID,
                  gridwidth=1.5, zeroline=False, ticks="outside", ticklen=3, tickwidth=2,
                  tickcolor="#333333", tickfont=tickfont, fixedrange=True)
    x0, x1 = p["px"]
    y0, y1 = p["py"]
    layout_axes["xaxis" + n] = dict(
        common, domain=[x0 * KX / W, x1 * KX / W], range=list(p["xr"]), anchor=ya,
        tickmode="linear", tick0=0, dtick=p["xdt"], tickformat=p["xfmt"],
        minor=dict(tickmode="linear", tick0=0, dtick=p["xmin"], showgrid=True, gridcolor=GRID, gridwidth=1.5),
    )
    layout_axes["yaxis" + n] = dict(
        common, domain=[1 - y1 / H, 1 - y0 / H], range=list(p["yr"]), anchor=xa,
        tickmode="array", tickvals=p["yvals"], ticktext=p["ytext"],
        minor=dict(tickmode="linear", tick0=0, dtick=p["ymin"], showgrid=True, gridcolor=GRID, gridwidth=1.5),
    )

    # threshold lines
    for xv, col in [(-LFC_STRICT, ORANGE), (-LFC_T, BLUE), (LFC_T, BLUE), (LFC_STRICT, ORANGE)]:
        shapes.append(dict(type="line", xref=xa, yref=ya + " domain", x0=xv, x1=xv, y0=0, y1=1,
                           line=dict(color=col, width=2, dash="6px,5px"), layer="above"))
    shapes.append(dict(type="line", xref=xa + " domain", yref=ya, x0=0, x1=1, y0=SIG_T, y1=SIG_T,
                       line=dict(color=BLUE, width=2, dash="6px,5px"), layer="above"))

    # gene labels
    for g, fc, s in p["lab"]:
        dx, dy = p["off"].get(g, (0, -10))
        annotations.append(dict(x=fc, y=s, xref=xa, yref=ya, xshift=dx * KX, yshift=-dy,
                                xanchor="center", yanchor="middle",
                                text=f"<b><i>{g}</i></b>", showarrow=False,
                                font=dict(family=FONT, size=14, color="black")))

    annotations.append(centered(p["title_xy"], f"<b><i>{p['title']}</i></b>", 16, "black"))
    annotations.append(centered(p["sex_xy"], f"<b><i>{p['sex']}</i></b>", 21, SEX_COL[p["sex"]]))
    annotations.append(centered(p["xt_xy"], "<b>Log2(FC)</b>", 20, "black"))
    annotations.append(centered(p["yt_xy"], "<b>-Log10(padj)</b>", 20, "black", angle=-90))

# caption
caption = [
    "<b>FIGURE 2 |</b> Significant DEGs in females and males. Significance [–log10(padj)] versus log2 fold change (FC) volcano plots of protein-coding and ncRNA DEGs in",
    "females and males. Red and green colors indicated up- and downregulated DEGs, respectively. The diameter of each circle is proportional to the respective log2FC.",
    "Only data above thresholds (padj &lt; 0.1, | Log2FC|  &gt; 0.58, indicated by blue dashed lines) are displayed. Dotted orange lines indicate stringent | Log2FC|  &gt; 1 (| FC|",
    "&gt; 2) thresholds. Select DEGs are labeled.",
]
for k, line in enumerate(caption):
    cx, cy = px2paper(24, 1351 + 25 * k)
    annotations.append(dict(x=cx, y=cy, xref="paper", yref="paper", xanchor="left", yanchor="middle",
                            showarrow=False, text=line, font=dict(family=FONT, size=17.9, color="#231f20")))

# outer frame
shapes.append(dict(type="rect", xref="paper", yref="paper", x0=8 * KX / W, x1=min(1355 * KX, W - 1.5) / W,
                   y0=1 - 1438 / H, y1=1 - 7 / H, line=dict(color="#555555", width=1.5), layer="below"))

fig.update_layout(width=W, height=H, margin=dict(l=0, r=0, t=0, b=0),
                  paper_bgcolor="white", plot_bgcolor="white",
                  annotations=annotations, shapes=shapes, **layout_axes)

fig.write_html(
    "out.html",
    config={"displayModeBar": False, "responsive": False},
    post_script=("document.body.style.margin='0px';"
                 "document.body.style.overflow='hidden';"
                 "document.documentElement.style.overflow='hidden';"),
)
